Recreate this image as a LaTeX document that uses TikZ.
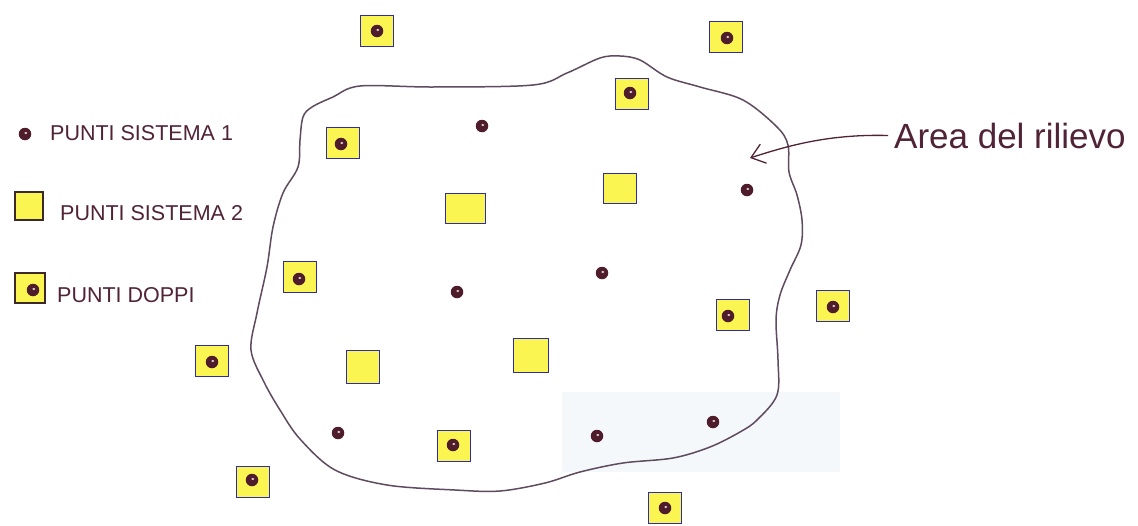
\documentclass[tikz,border=0pt]{standalone}
\usepackage{fontspec}
\setmainfont{Liberation Sans}
\usetikzlibrary{arrows.meta}
\definecolor{hy}{RGB}{250,245,80}
\definecolor{hb}{RGB}{45,45,170}
\definecolor{dc}{RGB}{78,28,42}
\definecolor{ink}{RGB}{80,35,55}
\definecolor{blobc}{RGB}{95,75,95}
\definecolor{legb}{RGB}{60,40,40}
\definecolor{faint}{RGB}{245,248,251}
\tikzset{
  dblbox/.style={rectangle, fill=hy, draw=hb, line width=1pt, minimum width=33pt, minimum height=31pt, inner sep=0pt},
  sqbox/.style={rectangle, fill=hy, draw=hb, line width=1pt, inner sep=0pt},
  legbox/.style={rectangle, fill=hy, draw=legb, line width=1.1pt, inner sep=0pt},
  ptdot/.style={circle, fill=dc, minimum size=12.5pt, inner sep=0pt,
    path picture={\fill[white!85!dc] ([xshift=0.8pt,yshift=1pt]path picture bounding box.center) ellipse (1.5pt and 1.1pt);}},
  legtxt/.style={font=\fontsize{21.5}{24}\selectfont, text=ink, inner sep=0pt},
  lbltxt/.style={font=\fontsize{35}{40}\selectfont, text=ink, inner sep=0pt},
  blobline/.style={draw=blobc, line width=1.5pt},
  arr/.style={draw=ink, line width=1.3pt, -{Straight Barb[length=13pt,width=20pt,line width=1.3pt]}},
}
\begin{document}
\begin{tikzpicture}[x=1pt,y=-1pt]
\path[use as bounding box, fill=white] (0,0) rectangle (1138,525);
\fill[faint] (562,392) rectangle (840,472);

% survey area outline
\draw[blobline] plot[smooth cycle, tension=0.55] coordinates {
 (312,107) (333,97) (360,86) (433,87) (533,85) (567,73) (600,58) (620,56)
 (640,60) (667,77) (700,87) (743,100) (777,127) (788,145) (789,172)
 (797,195) (802,220) (801,245) (790,270) (780,295) (776,320) (778,360)
 (777,395) (757,420) (740,432) (710,447) (673,458) (623,463) (580,472)
 (545,483) (500,491) (455,490) (387,485) (335,470) (300,439) (280,410)
 (264,382) (251,350) (257,313) (267,267) (273,227) (283,193) (298,167)
 (300,140) (303,117)};

% legend
\node[ptdot] (l1) at (25,134) {};
\node[legtxt, anchor=base west] (t1) at (50,140) {PUNTI SISTEMA 1};
\node[legbox, minimum width=28pt, minimum height=28pt] (l2) at (29,206) {};
\node[legtxt, anchor=base west] (t2) at (60,220) {PUNTI SISTEMA 2};
\node[legbox, minimum width=30pt, minimum height=30pt] (l3) at (30,288) {};
\node[ptdot] (l3d) at (33,290) {};
\node[legtxt, anchor=base west] (t3) at (57,302) {PUNTI DOPPI};

% double points
\node[dblbox] (d1) at (377,31) {};   \node[ptdot] (d1p) at (377,31) {};
\node[dblbox] (d2) at (726,37) {};   \node[ptdot] (d2p) at (727,38) {};
\node[dblbox] (d3) at (632,94) {};   \node[ptdot] (d3p) at (630,93) {};
\node[dblbox] (d4) at (343,143) {};  \node[ptdot] (d4p) at (341,144) {};
\node[dblbox] (d5) at (300,277) {};  \node[ptdot] (d5p) at (299,279) {};
\node[dblbox] (d6) at (833,306) {};  \node[ptdot] (d6p) at (833,307) {};
\node[dblbox] (d7) at (733,315) {};  \node[ptdot] (d7p) at (728,316) {};
\node[dblbox] (d8) at (212,361) {};  \node[ptdot] (d8p) at (212,362) {};
\node[dblbox] (d9) at (454,446) {};  \node[ptdot] (d9p) at (453,445) {};
\node[dblbox] (d10) at (253,482) {}; \node[ptdot] (d10p) at (252,480) {};
\node[dblbox] (d11) at (665,508) {}; \node[ptdot] (d11p) at (665,508) {};

% system 2 only
\node[sqbox, minimum width=40pt, minimum height=30pt] (s1) at (465,208) {};
\node[sqbox, minimum width=33pt, minimum height=30pt] (s2) at (620,188) {};
\node[sqbox, minimum width=33pt, minimum height=33pt] (s3) at (363,367) {};
\node[sqbox, minimum width=35pt, minimum height=34pt] (s4) at (531,355) {};

% system 1 only
\node[ptdot] (p1) at (482,126) {};
\node[ptdot] (p2) at (747,190) {};
\node[ptdot] (p3) at (457,292) {};
\node[ptdot] (p4) at (602,273) {};
\node[ptdot] (p5) at (338,433) {};
\node[ptdot] (p6) at (597,436) {};
\node[ptdot] (p7) at (713,422) {};

% label and arrow
\node[lbltxt, anchor=base west] (area) at (894,148) {Area del rilievo};
\coordinate (tip) at (750,158);
\draw[arr] ([xshift=-6pt]area.west) .. controls (830,134) and (790,145) .. (tip);
\end{tikzpicture}
\end{document}
